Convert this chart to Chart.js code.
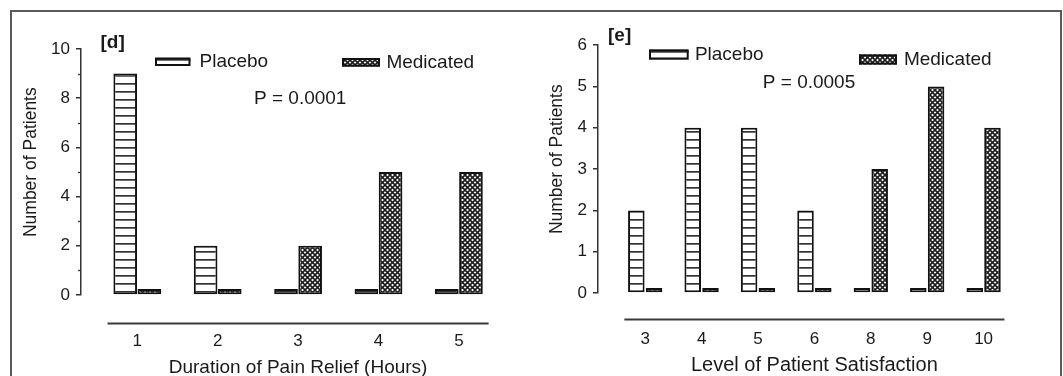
<!DOCTYPE html>
<html><head><meta charset="utf-8">
<script src="https://cdn.jsdelivr.net/npm/chart.js@4/dist/chart.umd.min.js"></script>
<style>
html,body{margin:0;padding:0;background:#fff;overflow:hidden;width:1063px;height:376px}
#frame{position:absolute;left:10px;top:10px;width:1048px;height:420px;border:2px solid #5a5a5a;}
.c{position:absolute;top:0}
</style></head><body>
<div id="frame"></div>
<div class="c" style="left:0"><canvas id="cd" width="530" height="376"></canvas></div>
<div class="c" style="left:530px"><canvas id="ce" width="533" height="376"></canvas></div>
<script>
// ---- data ----
const durationLabels = ['1', '2', '3', '4', '5'];
const durationPlacebo = [9, 2, 0, 0, 0];
const durationMedicated = [0, 0, 2, 5, 5];
const durationYMax = 10;
const durationYStep = 2;
const durationMinorTicks = [1, 3, 5, 7, 9];

const satisfactionLabels = ['3', '4', '5', '6', '8', '9', '10'];
const satisfactionPlacebo = [2, 4, 4, 2, 0, 0, 0];
const satisfactionMedicated = [0, 0, 0, 0, 3, 5, 4];
const satisfactionYMax = 6;
const satisfactionYStep = 1;
const satisfactionMinorTicks = [];

const seriesNames = ['Placebo', 'Medicated'];

// ---- style ----
const FONT = '"Liberation Sans", Arial, Helvetica, sans-serif';
const TXT = '#1a1a1a';

function stripePattern() {
  const c = document.createElement('canvas');
  c.width = 8; c.height = 8;
  const g = c.getContext('2d');
  g.fillStyle = '#fff'; g.fillRect(0, 0, 8, 8);
  g.fillStyle = '#333'; g.fillRect(0, 3, 8, 1.7);
  return g.createPattern(c, 'repeat');
}
function crossPattern() {
  const s = 5;
  const c = document.createElement('canvas');
  c.width = s; c.height = s;
  const g = c.getContext('2d');
  g.fillStyle = '#fff'; g.fillRect(0, 0, s, s);
  g.strokeStyle = '#1e1e1e'; g.lineWidth = 1.6;
  for (const o of [-s, 0, s]) {
    g.beginPath(); g.moveTo(o, 0); g.lineTo(o + s, s); g.stroke();
    g.beginPath(); g.moveTo(o + s, 0); g.lineTo(o, s); g.stroke();
  }
  return g.createPattern(c, 'repeat');
}
const placeboFill = stripePattern();
const medicatedFill = crossPattern();

const decor = {
  id: 'decor',
  afterDraw(chart) {
    const L = chart.options.plugins.decor;
    const ctx = chart.ctx;
    const xs = chart.scales.x, ys = chart.scales.y;
    const a = chart.chartArea;
    const n = L.labels.length;
    ctx.save();
    // separate x axis line
    ctx.strokeStyle = '#3a3a3a'; ctx.lineWidth = 1.8;
    ctx.beginPath();
    const ly = a.bottom + L.xLineGap;
    ctx.moveTo(xs.getPixelForValue(1 - 0.37), ly);
    ctx.lineTo(xs.getPixelForValue(n + 0.37), ly);
    ctx.stroke();
    // minor y ticks
    ctx.lineWidth = 1.3; ctx.strokeStyle = '#333';
    for (const v of L.minor) {
      const py = Math.round(ys.getPixelForValue(v)) + 0.5;
      ctx.beginPath(); ctx.moveTo(a.left - 3, py); ctx.lineTo(a.left, py); ctx.stroke();
    }
    ctx.fillStyle = TXT;
    ctx.textBaseline = 'middle';
    // y title
    ctx.save();
    ctx.translate(L.yTitleX, a.top + 0.46 * (a.bottom - a.top));
    ctx.rotate(-Math.PI / 2);
    ctx.textAlign = 'center';
    ctx.font = L.yTitleSize + 'px ' + FONT;
    ctx.fillText('Number of Patients', 0, 0);
    ctx.restore();
    // x title
    ctx.textAlign = 'center';
    ctx.font = L.xTitleSize + 'px ' + FONT;
    ctx.fillText(L.xTitle, (xs.getPixelForValue(1) + xs.getPixelForValue(n)) / 2, L.xTitleY);
    // tag
    ctx.textAlign = 'left';
    ctx.font = 'bold 19px ' + FONT;
    ctx.fillText(L.tag, L.tagX, L.tagY);
    // p value
    ctx.font = '19px ' + FONT;
    ctx.fillText(L.pText, L.pX, L.pY);
    // legend
    chart.data.datasets.forEach((ds, i) => {
      const it = L.legend[i];
      ctx.fillStyle = ds.backgroundColor;
      ctx.fillRect(it.x, it.y, it.w, it.h);
      ctx.strokeStyle = '#111'; ctx.lineWidth = 2;
      ctx.strokeRect(it.x + 1, it.y + 1, it.w - 2, it.h - 2);
      ctx.fillStyle = TXT;
      ctx.font = '19px ' + FONT;
      ctx.fillText(ds.label, it.tx, it.ty);
    });
    ctx.restore();
  }
};

function makeChart(id, labels, placebo, medicated, yMax, yStep, L) {
  const pts = arr => arr.map((v, i) => ({ x: i + 1, y: v }));
  const common = {
    borderColor: '#111', borderWidth: 2, borderSkipped: false,
    minBarLength: L.minBar, categoryPercentage: L.catPct, barPercentage: L.barPct
  };
  new Chart(document.getElementById(id), {
    type: 'bar',
    data: {
      datasets: [
        Object.assign({ label: seriesNames[0], data: pts(placebo), backgroundColor: placeboFill }, common),
        Object.assign({ label: seriesNames[1], data: pts(medicated), backgroundColor: medicatedFill }, common)
      ]
    },
    options: {
      responsive: false, animation: false, events: [],
      layout: { padding: { top: L.top, right: L.right, left: 0, bottom: 0 } },
      plugins: {
        legend: { display: false }, tooltip: { enabled: false },
        decor: Object.assign({ labels: labels }, L)
      },
      scales: {
        x: {
          type: 'linear', min: L.xmin, max: L.xmax, offset: false,
          grid: { display: false, drawTicks: false }, border: { display: false },
          afterBuildTicks: s => { s.ticks = labels.map((_, i) => ({ value: i + 1 })); },
          ticks: {
            callback: v => labels[v - 1], autoSkip: false, maxRotation: 0,
            font: { family: FONT, size: 17 }, color: TXT, padding: L.xTickPad
          },
          afterFit: s => { s.height = L.H - L.bottom; }
        },
        y: {
          min: 0, max: yMax,
          ticks: { stepSize: yStep, font: { family: FONT, size: 17 }, color: TXT, padding: 6 },
          grid: { drawOnChartArea: false, drawTicks: true, tickLength: 5, color: '#333', lineWidth: 1.5 },
          border: { display: true, color: '#333', width: 1.5 },
          afterFit: s => { s.width = L.axisX; }
        }
      }
    },
    plugins: [decor]
  });
}

makeChart('cd', durationLabels, durationPlacebo, durationMedicated, durationYMax, durationYStep, {
  H: 376, top: 49, bottom: 295, axisX: 81, xmin: 0.30, xmax: 5.5, right: 30.9,
  catPct: 0.6, barPct: 0.98, minBar: 6, xTickPad: 36, xLineGap: 28.5,
  minor: durationMinorTicks, yTitleX: 31, yTitleSize: 17.5,
  xTitle: 'Duration of Pain Relief (Hours)', xTitleSize: 19, xTitleY: 368,
  tag: '[d]', tagX: 100.5, tagY: 42.5, pText: 'P = 0.0001', pX: 254, pY: 99,
  legend: [
    { x: 155, y: 57.5, w: 35.5, h: 8.5, tx: 199.5, ty: 62 },
    { x: 342, y: 58, w: 38, h: 8.6, tx: 386.4, ty: 62.5 }
  ]
});

makeChart('ce', satisfactionLabels, satisfactionPlacebo, satisfactionMedicated, satisfactionYMax, satisfactionYStep, {
  H: 376, top: 45.2, bottom: 293, axisX: 68, xmin: 0.163, xmax: 7.5, right: 51.2,
  catPct: 0.63, barPct: 0.93, minBar: 5, xTickPad: 36.5, xLineGap: 26.5,
  minor: satisfactionMinorTicks, yTitleX: 27, yTitleSize: 17.5,
  xTitle: 'Level of Patient Satisfaction', xTitleSize: 20, xTitleY: 365.5,
  tag: '[e]', tagX: 78, tagY: 36, pText: 'P = 0.0005', pX: 232.8, pY: 82.6,
  legend: [
    { x: 119, y: 49.3, w: 39.7, h: 10.2, tx: 164.9, ty: 54.4 },
    { x: 329, y: 54.4, w: 38, h: 10.2, tx: 373.9, ty: 59.5 }
  ]
});
</script>
</body></html>
